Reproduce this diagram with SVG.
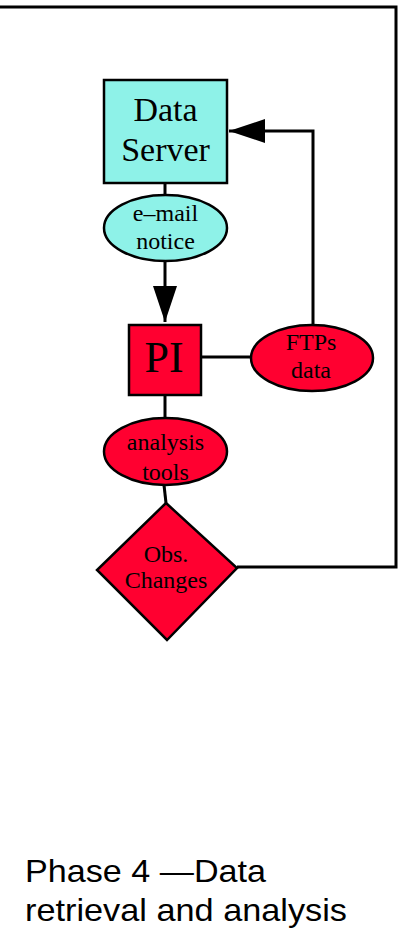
<svg xmlns="http://www.w3.org/2000/svg" width="402" height="929" viewBox="0 0 402 929">
<style>
.cy{fill:#8ef2e8;stroke:#000;stroke-width:2.5}
.rd{fill:#ff0030;stroke:#000;stroke-width:2.5}
.ln{fill:none;stroke:#000;stroke-width:3}
.t{font-family:"Liberation Serif","Times New Roman",serif;fill:#000;text-anchor:middle}
.s{font-size:24px}
.cap{font-family:"Liberation Sans",Arial,sans-serif;font-size:32px;fill:#000}
</style>
<defs>
<marker id="ah" markerUnits="userSpaceOnUse" markerWidth="40" markerHeight="26" refX="38" refY="12" orient="auto">
<path d="M2,0 L38,12 L2,24 Z" fill="#000"/>
</marker>
</defs>
<g id="connectors">
<path class="ln" d="M0,7 H396 V567 H237"/>
<path class="ln" d="M165,182 V195"/>
<path class="ln" d="M165,261 V322" marker-end="url(#ah)"/>
<path class="ln" d="M313,325 V131 H229" marker-end="url(#ah)"/>
<path class="ln" d="M201,357 H251"/>
<path class="ln" d="M165,395 V418"/>
<path class="ln" d="M164,485 L166,503"/>
</g>
<g id="data-server">
<rect class="cy" x="104" y="80" width="123" height="103"/>
<text class="t" x="165.5" y="120.5" font-size="34">Data</text>
<text class="t" x="165.5" y="161" font-size="34">Server</text>
</g>
<g id="email-notice">
<ellipse class="cy" cx="165.5" cy="228" rx="61.5" ry="33"/>
<text class="t s" x="165.5" y="221">e–mail</text>
<text class="t s" x="165.5" y="249">notice</text>
</g>
<g id="pi">
<rect class="rd" x="129" y="325" width="72" height="70"/>
<text class="t" x="164" y="372" font-size="44">PI</text>
</g>
<g id="ftps-data">
<ellipse class="rd" cx="312" cy="358" rx="61" ry="33"/>
<text class="t s" x="311" y="350">FTPs</text>
<text class="t s" x="311" y="378">data</text>
</g>
<g id="analysis-tools">
<ellipse class="rd" cx="165.5" cy="451.5" rx="61.5" ry="33.5"/>
<text class="t s" x="165.5" y="450">analysis</text>
<text class="t s" x="165.5" y="480">tools</text>
</g>
<g id="obs-changes">
<polygon class="rd" points="166,503 237,568 167,640 97,570"/>
<text class="t s" x="166" y="562">Obs.</text>
<text class="t s" x="166" y="588">Changes</text>
</g>
<g id="caption">
<text class="cap" x="25" y="881.5" textLength="241" lengthAdjust="spacingAndGlyphs">Phase 4 —Data</text>
<text class="cap" x="25" y="921" textLength="322" lengthAdjust="spacingAndGlyphs">retrieval and analysis</text>
</g>
</svg>
